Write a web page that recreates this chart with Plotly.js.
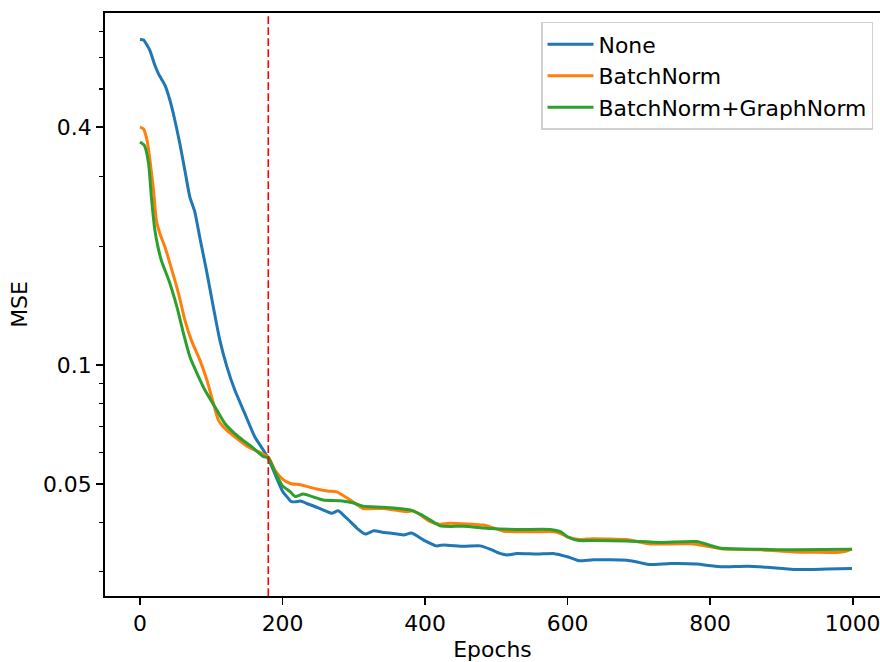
<!DOCTYPE html>
<html>
<head>
<meta charset="utf-8">
<script src="https://cdn.plot.ly/plotly-3.0.1.min.js"></script>
<style>html,body{margin:0;padding:0;background:#fff;}#chart{width:880px;height:662px;}</style>
</head>
<body>
<div id="chart"></div>
<script>
// ---- data ----
const seriesNames = ["None", "BatchNorm", "BatchNorm+GraphNorm"];

const noneEpochs = [0,5,10,14,21,26,30,35,42,49,56,63,70,77,84,94,103,112,122,133,147,161,173,180,190,200,206,212,218,225,235,248,260,269,278,287,295,305,316,328,340,351,370,381,398,416,426,454,477,492,505,515,529,557,580,590,601,616,636,683,700,716,744,781,800,815,852,880,917,964,999];
const noneMSE = [0.667,0.665,0.645,0.625,0.573,0.546,0.53,0.511,0.468,0.416,0.363,0.311,0.266,0.244,0.210,0.171,0.140,0.1157,0.099,0.0865,0.0755,0.0659,0.061,0.058,0.0527,0.048,0.0465,0.0452,0.0451,0.0453,0.0446,0.0437,0.0428,0.0422,0.0428,0.0415,0.0402,0.0386,0.0374,0.0381,0.0378,0.0376,0.0372,0.0376,0.0361,0.0349,0.0351,0.0348,0.0349,0.0342,0.0334,0.0331,0.0334,0.0333,0.0334,0.0331,0.0327,0.032,0.0322,0.0321,0.0317,0.0313,0.0315,0.0314,0.0311,0.0309,0.031,0.0308,0.0304,0.0305,0.0306];

const bnEpochs = [0,5,10,14,19,23,28,35,42,54,63,72,84,94,103,110,119,133,152,171,180,190,200,211,225,248,265,276,285,295,305,313,342,374,384,395,407,421,435,482,495,510,557,580,590,601,616,636,683,700,716,777,800,815,871,917,978,990,999];
const bnMSE = [0.4,0.396,0.37,0.33,0.277,0.2325,0.215,0.199,0.181,0.152,0.130,0.1157,0.103,0.0916,0.080,0.0726,0.0692,0.0659,0.0621,0.0598,0.0585,0.054,0.0515,0.0502,0.0498,0.0486,0.048,0.0478,0.0468,0.0456,0.0443,0.0434,0.0434,0.0426,0.0428,0.0416,0.0402,0.0396,0.0398,0.0394,0.0388,0.038,0.0379,0.0379,0.0375,0.0367,0.0362,0.0364,0.0362,0.0357,0.0353,0.0353,0.0347,0.0343,0.0341,0.0337,0.0336,0.0338,0.0343];

const bngnEpochs = [0,6,12,16,21,25,30,42,52,61,70,80,91,105,119,138,157,173,180,190,200,211,218,229,257,281,300,313,342,379,395,407,421,454,492,529,576,590,601,616,636,683,730,781,800,815,871,917,999];
const bngnMSE = [0.367,0.36,0.324,0.266,0.219,0.2,0.184,0.161,0.140,0.1203,0.105,0.0953,0.0865,0.0785,0.0712,0.0659,0.0621,0.0587,0.0584,0.0534,0.0495,0.0478,0.0465,0.0472,0.0456,0.0454,0.0448,0.044,0.0437,0.043,0.0418,0.0406,0.0392,0.0391,0.0386,0.0384,0.0384,0.0379,0.0367,0.036,0.036,0.0359,0.0356,0.0358,0.035,0.0344,0.0342,0.0341,0.0342];

const markerEpoch = 180;
const xTickVals = [0, 200, 400, 600, 800, 1000];
const yTickVals = [0.05, 0.1, 0.4];
const yTickText = ["0.05", "0.1", "0.4"];
const yMinorVals = [0.03, 0.04, 0.06, 0.07, 0.08, 0.09, 0.2, 0.3, 0.5, 0.6, 0.7];

// ---- styling ----
const colors = ["#1f77b4", "#ff7f0e", "#2ca02c"];
const FONT = "DejaVu Sans, sans-serif";
const FS = 21.9;

const xs = [noneEpochs, bnEpochs, bngnEpochs];
const ys = [noneMSE, bnMSE, bngnMSE];

const traces = seriesNames.map((n, i) => ({
  type: "scatter", mode: "lines", name: n,
  x: xs[i], y: ys[i],
  line: {color: colors[i], width: 3, shape: "spline", smoothing: 0.5}
}));

const layout = {
  width: 880, height: 662,
  margin: {l: 105, r: 0, t: 13, b: 66, pad: 0},
  paper_bgcolor: "#fff", plot_bgcolor: "#fff",
  font: {family: FONT, size: FS, color: "#000"},
  showlegend: true,
  legend: {
    x: 0.991, y: 0.9846, xanchor: "right", yanchor: "top",
    bgcolor: "#fff", bordercolor: "#d0d0d0", borderwidth: 1.5,
    itemwidth: 46,
    font: {family: FONT, size: FS, color: "#000"}
  },
  xaxis: {
    range: [-49.1, 1038.3],
    tickmode: "array", tickvals: xTickVals,
    ticks: "outside", ticklen: 7.3, tickwidth: 1.67, tickcolor: "#000",
    ticklabeloverflow: "allow",
    showline: true, linecolor: "#000", linewidth: 1.67, mirror: true,
    showgrid: false, zeroline: false,
    tickfont: {family: FONT, size: FS, color: "#000"},
    title: {text: "Epochs", font: {family: FONT, size: FS, color: "#000"}, standoff: 7}
  },
  yaxis: {
    type: "log", range: [-1.584, -0.109],
    tickmode: "array", tickvals: yTickVals, ticktext: yTickText,
    ticks: "outside", ticklen: 7.3, tickwidth: 1.67, tickcolor: "#000",
    minor: {tickmode: "array", tickvals: yMinorVals, ticks: "outside", ticklen: 4.2, tickwidth: 1.25, tickcolor: "#000", showgrid: false},
    showline: true, linecolor: "#000", linewidth: 1.67,
    showgrid: false, zeroline: false,
    tickfont: {family: FONT, size: FS, color: "#000"},
    title: {text: "MSE", font: {family: FONT, size: FS, color: "#000"}, standoff: 9}
  },
  shapes: [{
    type: "line", xref: "x", yref: "paper",
    x0: markerEpoch, x1: markerEpoch, y0: 0, y1: 1,
    line: {color: "red", width: 1.6, dash: "7.7px,3.3px"}
  }]
};

Plotly.newPlot("chart", traces, layout, {staticPlot: true, displayModeBar: false});
</script>
</body>
</html>
